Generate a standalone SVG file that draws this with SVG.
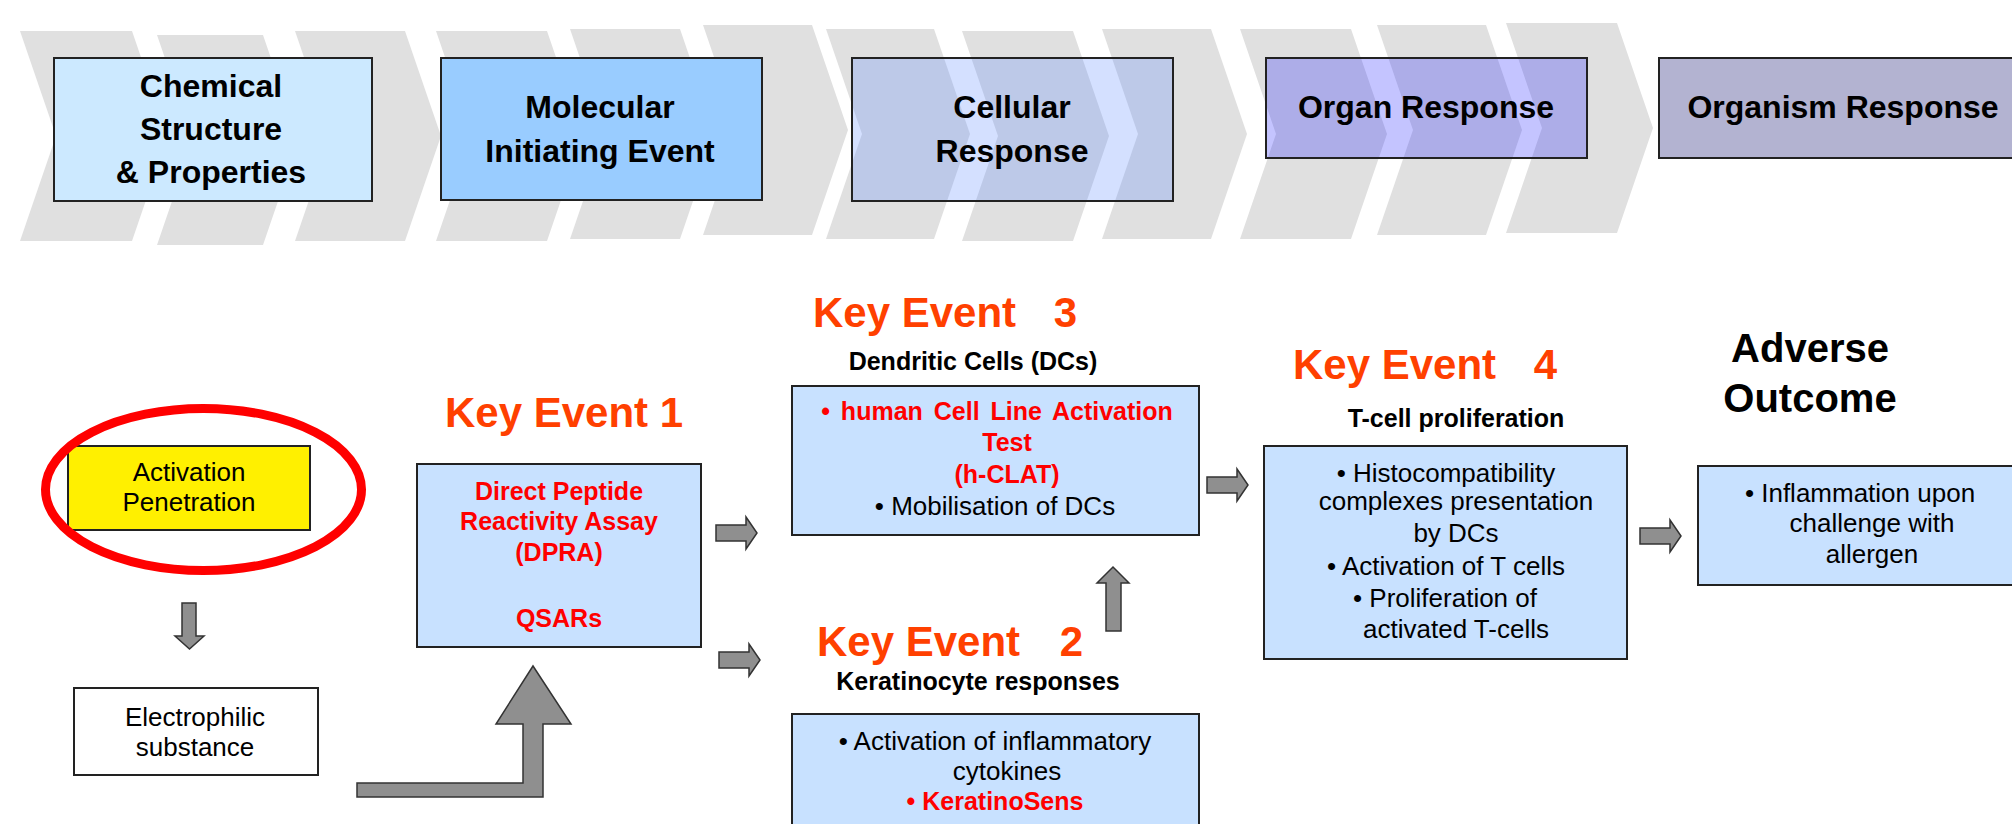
<svg xmlns="http://www.w3.org/2000/svg" width="2012" height="824" viewBox="0 0 2012 824">
<defs>
<style>
text{font-family:"Liberation Sans",Arial,sans-serif}
.hdr{font-weight:bold;font-size:32px;text-anchor:middle;fill:#000}
.ke{font-weight:bold;font-size:42px;fill:#FF4000}
.sub{font-weight:bold;font-size:25px;text-anchor:middle;fill:#000}
.body{font-size:26px;text-anchor:middle;fill:#000}
.red{font-weight:bold;font-size:25px;text-anchor:middle;fill:#FF0000}
.ao{font-weight:bold;font-size:40px;text-anchor:middle;fill:#000}
.chev{fill:#E0E0E0}
.hbox{stroke:#222;stroke-width:2}
.box{fill:#C8E1FF;stroke:#222;stroke-width:2}
.arr{fill:#8F8F8F;stroke:#333;stroke-width:1.5}
</style>
<path id="rarrow" d="M0,-8 H30 V-16 L41,0 L30,16 V8 H0 Z"/>
</defs>
<rect width="2012" height="824" fill="#FFFFFF"/>

<g id="chevrons">
<path class="chev" d="M20,31 H132 L168,136 L132,241 H20 L56,136 Z"/>
<path class="chev" d="M157,35 H263 L299,140 L263,245 H157 L193,140 Z"/>
<path class="chev" d="M295,31 H405 L441,136 L405,241 H295 L331,136 Z"/>
<path class="chev" d="M436,31 H547 L583,136 L547,241 H436 L472,136 Z"/>
<path class="chev" d="M570,29 H680 L716,134 L680,239 H570 L606,134 Z"/>
<path class="chev" d="M703,25 H812 L848,130 L812,235 H703 L739,130 Z"/>
<path class="chev" d="M826,29 H934 L970,134 L934,239 H826 L862,134 Z"/>
<path class="chev" d="M962,31 H1073 L1109,136 L1073,241 H962 L998,136 Z"/>
<path class="chev" d="M1102,29 H1211 L1247,134 L1211,239 H1102 L1138,134 Z"/>
<path class="chev" d="M1240,29 H1351 L1387,134 L1351,239 H1240 L1276,134 Z"/>
<path class="chev" d="M1377,25 H1486 L1522,130 L1486,235 H1377 L1413,130 Z"/>
<path class="chev" d="M1506,23 H1617 L1653,128 L1617,233 H1506 L1542,128 Z"/>
</g>

<g id="hdr-chemical">
<rect class="hbox" x="54" y="58" width="318" height="143" fill="#CCE9FF"/>
<text class="hdr" x="211" y="97">Chemical</text>
<text class="hdr" x="211" y="140">Structure</text>
<text class="hdr" x="211" y="183">&amp; Properties</text>
</g>
<g id="hdr-molecular">
<rect class="hbox" x="441" y="58" width="321" height="142" fill="#99CCFF"/>
<text class="hdr" x="600" y="118">Molecular</text>
<text class="hdr" x="600" y="162">Initiating Event</text>
</g>
<g id="hdr-cellular">
<rect class="hbox" x="852" y="58" width="321" height="143" fill="#608DFF" fill-opacity="0.27"/>
<text class="hdr" x="1012" y="118">Cellular</text>
<text class="hdr" x="1012" y="162">Response</text>
</g>
<g id="hdr-organ">
<rect class="hbox" x="1266" y="58" width="321" height="100" fill="#1414FF" fill-opacity="0.25"/>
<text class="hdr" x="1426" y="118">Organ Response</text>
</g>
<g id="hdr-organism">
<rect class="hbox" x="1659" y="58" width="380" height="100" fill="#B3B3D1"/>
<text class="hdr" x="1843" y="118">Organism Response</text>
</g>

<g id="activation">
<rect x="68" y="446" width="242" height="84" fill="#FFF000" stroke="#222" stroke-width="2"/>
<text class="body" x="189" y="481">Activation</text>
<text class="body" x="189" y="511">Penetration</text>
</g>
<ellipse id="highlight" cx="203.5" cy="489.5" rx="158" ry="81" fill="none" stroke="#FF0000" stroke-width="9"/>

<g id="electrophilic">
<rect x="74" y="688" width="244" height="87" fill="#FFFFFF" stroke="#222" stroke-width="2"/>
<text class="body" x="195" y="726">Electrophilic</text>
<text class="body" x="195" y="756">substance</text>
</g>

<g id="ke1">
<text class="ke" x="445" y="427">Key Event 1</text>
<rect class="box" x="417" y="464" width="284" height="183"/>
<text class="red" x="559" y="500">Direct Peptide</text>
<text class="red" x="559" y="530">Reactivity Assay</text>
<text class="red" x="559" y="561">(DPRA)</text>
<text class="red" x="559" y="627">QSARs</text>
</g>

<g id="ke3">
<text class="ke" x="813" y="327">Key Event <tspan dx="26">3</tspan></text>
<text class="sub" x="973" y="370">Dendritic Cells (DCs)</text>
<rect class="box" x="792" y="386" width="407" height="149"/>
<text class="red" x="997" y="420" word-spacing="4">• human Cell Line Activation</text>
<text class="red" x="1007" y="451">Test</text>
<text class="red" x="1007" y="483">(h-CLAT)</text>
<text class="body" x="995" y="515">•  Mobilisation of DCs</text>
</g>

<g id="ke2">
<text class="ke" x="817" y="656">Key Event <tspan dx="28">2</tspan></text>
<text class="sub" x="978" y="690">Keratinocyte responses</text>
<rect class="box" x="792" y="714" width="407" height="140"/>
<text class="body" x="995" y="750">•  Activation of inflammatory</text>
<text class="body" x="1007" y="780">cytokines</text>
<text class="red" x="995" y="810">•  KeratinoSens</text>
</g>

<g id="ke4">
<text class="ke" x="1293" y="379">Key Event <tspan dx="26">4</tspan></text>
<text class="sub" x="1456" y="427">T-cell proliferation</text>
<rect class="box" x="1264" y="446" width="363" height="213"/>
<text class="body" x="1446" y="482">• Histocompatibility</text>
<text class="body" x="1456" y="510">complexes presentation</text>
<text class="body" x="1456" y="542">by DCs</text>
<text class="body" x="1446" y="575">• Activation of T cells</text>
<text class="body" x="1445" y="607">• Proliferation of</text>
<text class="body" x="1456" y="638">activated T-cells</text>
</g>

<g id="adverse-outcome">
<text class="ao" x="1810" y="362">Adverse</text>
<text class="ao" x="1810" y="412">Outcome</text>
<rect class="box" x="1698" y="466" width="360" height="119"/>
<text class="body" x="1860" y="502">• Inflammation upon</text>
<text class="body" x="1872" y="532">challenge with</text>
<text class="body" x="1872" y="563">allergen</text>
</g>

<g id="connectors">
<path class="arr" d="M182,603 H196 V636 H204 L189.5,649 L175,636 H182 Z"/>
<path class="arr" d="M357,783 H523 V724 H496 L533,666 L571,724 H543 V797 H357 Z"/>
<use href="#rarrow" class="arr" x="716" y="533"/>
<use href="#rarrow" class="arr" x="719" y="660"/>
<path class="arr" d="M1106,631 V583 H1097 L1113,567 L1129,583 H1121 V631 Z"/>
<use href="#rarrow" class="arr" x="1207" y="485"/>
<use href="#rarrow" class="arr" x="1640" y="536"/>
</g>
</svg>
